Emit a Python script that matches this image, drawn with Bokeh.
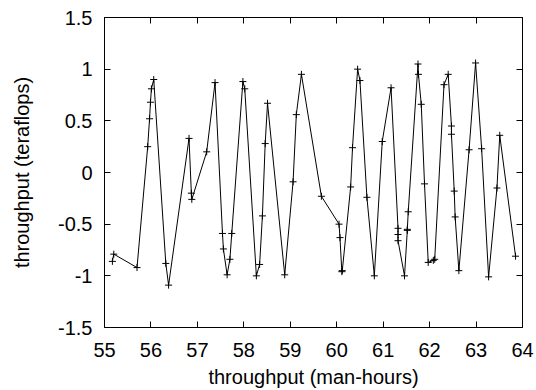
from bokeh.plotting import figure
from bokeh.models import Range1d, LinearAxis, FixedTicker, CustomJSTickFormatter
from bokeh.embed import file_html
from bokeh.resources import INLINE

# Data
x_vals = [55.17, 55.20, 55.70, 55.93, 55.97, 55.99, 56.01, 56.06, 56.32, 56.38,
          56.82, 56.87, 56.88, 57.20, 57.38, 57.54, 57.56, 57.64, 57.70, 57.74,
          57.98, 58.02, 58.27, 58.34, 58.40, 58.46, 58.51, 58.88, 59.06, 59.13,
          59.24, 59.67, 60.05, 60.07, 60.11, 60.12, 60.30, 60.34, 60.45, 60.50,
          60.65, 60.81, 60.98, 61.17, 61.32, 61.32, 61.32, 61.46, 61.52, 61.52,
          61.54, 61.75, 61.76, 61.82, 61.89, 61.97, 62.08, 62.11, 62.31, 62.40,
          62.47, 62.47, 62.53, 62.55, 62.63, 62.85, 62.99, 63.12, 63.27, 63.45,
          63.51, 63.85]
y_vals = [-0.86, -0.79, -0.92, 0.25, 0.52, 0.68, 0.81, 0.90, -0.88, -1.09,
          0.33, -0.20, -0.26, 0.20, 0.87, -0.59, -0.74, -0.99, -0.84, -0.59,
          0.88, 0.81, -1.00, -0.89, -0.42, 0.28, 0.67, -0.99, -0.09, 0.56,
          0.95, -0.23, -0.50, -0.63, -0.96, -0.95, -0.14, 0.24, 1.00, 0.89,
          -0.24, -1.00, 0.30, 0.82, -0.54, -0.60, -0.66, -1.00, -0.56, -0.55,
          -0.38, 1.05, 0.95, 0.66, -0.11, -0.87, -0.85, -0.84, 0.85, 0.95,
          0.45, 0.37, -0.18, -0.43, -0.95, 0.22, 1.06, 0.23, -1.01, -0.15,
          0.36, -0.81]
x_ticks = [55, 56, 57, 58, 59, 60, 61, 62, 63, 64]
y_ticks = [-1.5, -1.0, -0.5, 0.0, 0.5, 1.0, 1.5]
x_label = "throughput (man-hours)"
y_label = "throughput (teraflops)"

FONT = "Liberation Sans"
FS = "20px"

p = figure(width=536, height=390, output_backend="svg", toolbar_location=None,
           x_range=Range1d(55, 64), y_range=Range1d(-1.5, 1.5),
           min_border_left=104, min_border_right=14, min_border_top=17,
           min_border_bottom=62)
p.background_fill_color = "white"
p.border_fill_color = "white"
p.outline_line_color = "black"
p.outline_line_width = 1
p.outline_line_alpha = 1
p.xgrid.visible = False
p.ygrid.visible = False

fmt = CustomJSTickFormatter(code="return tick.toString();")
blank = CustomJSTickFormatter(code="return '';")

for ax, ticks in ((p.xaxis[0], x_ticks), (p.yaxis[0], y_ticks)):
    ax.ticker = FixedTicker(ticks=ticks)
    ax.formatter = fmt
    ax.axis_line_color = None
    ax.major_tick_in = 6
    ax.major_tick_out = 0
    ax.minor_tick_line_color = None
    ax.major_tick_line_color = "black"
    ax.major_label_text_font = FONT
    ax.major_label_text_font_size = FS
    ax.major_label_text_color = "black"
    ax.axis_label_text_font = FONT
    ax.axis_label_text_font_size = FS
    ax.axis_label_text_font_style = "normal"
    ax.axis_label_text_color = "black"

p.xaxis[0].axis_label = x_label
p.yaxis[0].axis_label = y_label
p.xaxis[0].major_label_standoff = 15
p.xaxis[0].axis_label_standoff = 6
p.yaxis[0].major_label_standoff = 12
p.yaxis[0].axis_label_standoff = 22

# mirrored ticks on top and right
top = LinearAxis(ticker=FixedTicker(ticks=x_ticks), formatter=blank,
                 major_label_text_font_size="1px",
                 major_label_standoff=0, axis_line_color=None, major_tick_in=6,
                 major_tick_out=0, minor_tick_line_color=None)
right = LinearAxis(ticker=FixedTicker(ticks=y_ticks), formatter=blank,
                   major_label_text_font_size="1px",
                   major_label_standoff=0, axis_line_color=None, major_tick_in=6,
                   major_tick_out=0, minor_tick_line_color=None)
p.add_layout(top, "above")
p.add_layout(right, "right")

p.line(x_vals, y_vals, line_color="black", line_width=1)
p.scatter(x_vals, y_vals, marker="cross", size=7, line_color="black", line_width=1)

open("out.html", "w").write(file_html(p, INLINE))
